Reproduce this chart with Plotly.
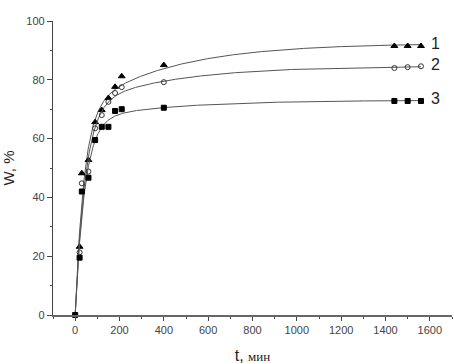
import numpy as np
import plotly.graph_objects as go

# Data
t_min = [0, 20, 30, 60, 90, 120, 150, 180, 210, 400, 1440, 1500, 1560]
w1 = [0, 23.2, 48.2, 52.7, 65.6, 69.7, 73.8, 77.6, 81.2, 85.0, 91.5, 91.5, 91.5]
w2 = [0, 21.3, 44.8, 48.8, 63.5, 68.0, 72.5, 75.5, 77.5, 79.2, 84.0, 84.3, 84.6]
w3 = [0, 19.5, 42.0, 46.7, 59.5, 64.0, 64.0, 69.4, 70.0, 70.5, 72.8, 72.8, 72.8]
series_labels = ["1", "2", "3"]
x_ticks = [0, 200, 400, 600, 800, 1000, 1200, 1400, 1600]
y_ticks = [0, 20, 40, 60, 80, 100]


def fit_curve(t, w):
    """Least-squares fit W = A(1-exp(-k1 t)) + B(1-exp(-k2 t)), grid over k1, k2."""
    t = np.asarray(t, float)
    w = np.asarray(w, float)
    best = None
    ks1 = np.logspace(-2.3, -0.8, 80)
    ks2 = np.logspace(-3.3, -2.6, 40)
    for k1 in ks1:
        for k2 in ks2:
            X = np.column_stack([1 - np.exp(-k1 * t), 1 - np.exp(-k2 * t)])
            coef, *_ = np.linalg.lstsq(X, w, rcond=None)
            if coef[1] < 0:
                X1 = X[:, :1]
                c1, *_ = np.linalg.lstsq(X1, w, rcond=None)
                coef = np.array([c1[0], 0.0])
            err = np.sum((X @ coef - w) ** 2)
            if best is None or err < best[0]:
                best = (err, k1, k2, coef)
    _, k1, k2, (A, B) = best
    tt = np.linspace(0, max(t), 800)
    return tt, A * (1 - np.exp(-k1 * tt)) + B * (1 - np.exp(-k2 * tt))


fig = go.Figure()
series = [(w1, "triangle-up", "black", 6), (w2, "circle-open", "#333", 5), (w3, "square", "black", 5)]
for (w, sym, col, sz), lab in zip(series, series_labels):
    tt, ww = fit_curve(t_min, w)
    fig.add_trace(go.Scatter(x=tt, y=ww, mode="lines", line=dict(color="#555", width=1),
                             showlegend=False, hoverinfo="skip", cliponaxis=False))
    fig.add_trace(go.Scatter(x=t_min, y=w, mode="markers", showlegend=False, cliponaxis=False,
                             marker=dict(symbol=sym, size=sz, color=col,
                                         line=dict(color=col, width=1))))
    fig.add_annotation(x=1560, y=w[-1], text=lab, showarrow=False, xanchor="left",
                       xshift=8, yshift=2, font=dict(family="Liberation Sans", size=16, color="#222"))

fig.update_layout(
    width=454, height=364,
    margin=dict(l=53, r=2, t=21, b=49, autoexpand=False),
    plot_bgcolor="white", paper_bgcolor="white",
    font=dict(family="Liberation Sans", size=11, color="#444"),
)
fig.update_xaxes(
    range=[-100, 1700], tickvals=x_ticks, showgrid=False, zeroline=False, automargin=False,
    showline=True, linecolor="#666", linewidth=1.5,
    ticks="outside", ticklen=4, tickcolor="#444",
    minor=dict(dtick=100, ticks="outside", ticklen=2, tickcolor="#444"),
    title=dict(text="t, <span style='font-family:Liberation Serif;font-size:13px'>мин</span>",
               font=dict(family="Liberation Sans", size=16, color="#222")),
)
fig.update_yaxes(
    range=[0, 100], tickvals=y_ticks, showgrid=False, zeroline=False, automargin=False,
    showline=True, linecolor="#444", linewidth=1.2,
    ticks="outside", ticklen=5, tickcolor="#444",
    minor=dict(dtick=10, ticks="outside", ticklen=2, tickcolor="#444"),
    title=dict(text="W, %", font=dict(family="Liberation Sans", size=15, color="#222")),
)
fig.write_html("out.html", config={"displayModeBar": False},
               post_script="document.body.style.margin='0';")
